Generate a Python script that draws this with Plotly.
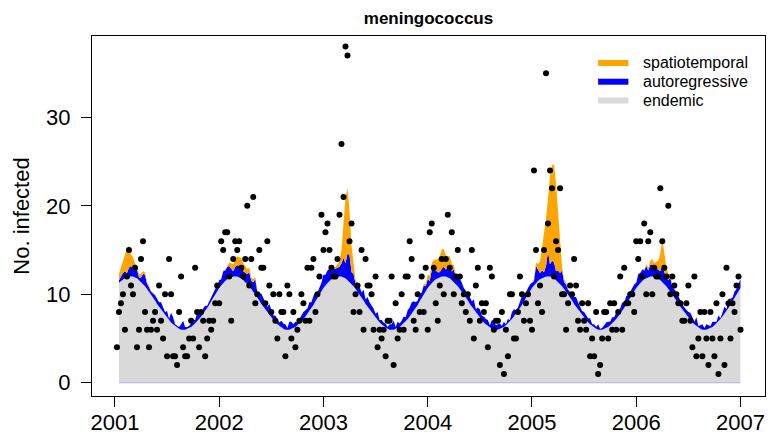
import plotly.graph_objects as go

# weekly meningococcal counts, 52 weeks per year
cases_2001 = [4, 8, 9, 10, 6, 12, 15, 11, 10, 13, 4, 6, 14, 16, 8, 6, 4, 6, 7, 8, 6, 11, 7, 5, 10, 3,
              14, 10, 3, 3, 2, 8, 12, 4, 3, 3, 5, 7, 5, 13, 8, 4, 8, 7, 3, 5, 7, 6, 7, 9, 11, 9]
cases_2002 = [16, 15, 17, 17, 12, 7, 14, 16, 15, 16, 13, 12, 14, 20, 11, 14, 21, 9, 10, 15, 13, 13, 9, 16, 11, 8,
              10, 7, 5, 10, 8, 8, 3, 11, 10, 5, 8, 4, 6, 7, 10, 9, 7, 13, 7, 13, 14, 8, 10, 12, 19, 15]
cases_2003 = [17, 18, 15, 13, 12, 12, 14, 19, 27, 21, 38, 37, 16, 18, 8, 10, 11, 8, 15, 6, 14, 11, 11, 10, 6, 12,
              4, 6, 5, 6, 3, 7, 7, 12, 2, 9, 5, 6, 10, 6, 12, 12, 16, 14, 7, 6, 10, 8, 12, 8, 13, 6]
cases_2004 = [17, 18, 13, 9, 7, 11, 14, 10, 14, 19, 13, 17, 10, 12, 15, 12, 9, 10, 8, 10, 7, 15, 5, 11, 13, 7,
              9, 8, 9, 4, 13, 12, 6, 7, 7, 2, 8, 1, 6, 3, 10, 10, 5, 5, 8, 12, 10, 7, 9, 10, 7, 6]
cases_2005 = [24, 15, 9, 11, 8, 15, 35, 18, 24, 22, 12, 16, 15, 22, 10, 10, 6, 9, 11, 10, 14, 11, 7, 6, 9, 7,
              6, 9, 3, 5, 3, 8, 1, 2, 5, 8, 8, 5, 9, 6, 9, 6, 8, 12, 6, 13, 9, 9, 10, 10, 8, 16]
cases_2006 = [14, 16, 12, 18, 10, 16, 17, 10, 13, 12, 12, 22, 16, 13, 12, 20, 10, 12, 11, 10, 9, 9, 7, 7, 9, 11,
              7, 4, 12, 3, 5, 8, 3, 8, 5, 2, 8, 5, 3, 9, 1, 5, 10, 2, 13, 9, 5, 9, 8, 11, 12, 6]

# endemic part (grey), one season of the curve - it looks the same every year
endemic_season = [11.0, 11.3, 11.5, 11.7, 11.8, 11.9, 12.0, 12.0, 12.0, 11.9,
                  11.8, 11.6, 11.4, 11.2, 10.9, 10.6, 10.3, 10.0, 9.6, 9.3,
                  8.9, 8.6, 8.2, 7.9, 7.6, 7.3, 7.0, 6.8, 6.6, 6.4,
                  6.2, 6.1, 6.0, 6.0, 6.0, 6.1, 6.2, 6.3, 6.5, 6.7,
                  6.9, 7.2, 7.5, 7.8, 8.1, 8.5, 8.8, 9.2, 9.6, 10.0,
                  10.3, 10.7]

# autoregressive part (blue band thickness); the fit starts in week 2 of 2001
ar_2001 = [0.3, 0.6, 0.7, 0.8, 0.5, 1.0, 1.2, 0.9, 0.8, 1.0, 0.3, 0.5, 1.1, 1.3, 0.6, 0.5, 0.3, 0.5, 0.6,
           0.6, 0.5, 0.9, 0.6, 0.4, 0.8, 0.2, 1.1, 0.8, 0.2, 0.2, 0.2, 0.6, 1.0, 0.3, 0.2, 0.2, 0.4, 0.6, 0.4,
           1.0, 0.6, 0.3, 0.6, 0.6, 0.2, 0.4, 0.6, 0.5, 0.6, 0.7, 0.9]
ar_2002 = [0.7, 1.3, 1.2, 1.4, 1.4, 1.0, 0.6, 1.1, 1.3, 1.2, 1.3, 1.0, 1.0, 1.1, 1.6, 0.9, 1.1, 1.7, 0.7, 0.8,
           1.2, 1.0, 1.0, 0.7, 1.3, 0.9, 0.6, 0.8, 0.6, 0.4, 0.8, 0.6, 0.6, 0.2, 0.9, 0.8, 0.4, 0.6, 0.3, 0.5,
           0.6, 0.8, 0.7, 0.6, 1.0, 0.6, 1.0, 1.1, 0.6, 0.8, 1.0, 1.5]
ar_2003 = [1.2, 1.4, 1.4, 1.2, 1.0, 1.0, 1.0, 1.1, 1.5, 2.2, 1.7, 3.0, 3.0, 1.3, 1.4, 0.6, 0.8, 0.9, 0.6, 1.2,
           0.5, 1.1, 0.9, 0.9, 0.8, 0.5, 1.0, 0.3, 0.5, 0.4, 0.5, 0.2, 0.6, 0.6, 1.0, 0.2, 0.7, 0.4, 0.5, 0.8,
           0.5, 1.0, 1.0, 1.3, 1.1, 0.6, 0.5, 0.8, 0.6, 1.0, 0.6, 1.0]
ar_2004 = [0.5, 1.4, 1.4, 1.0, 0.7, 0.6, 0.9, 1.1, 0.8, 1.1, 1.5, 1.0, 1.4, 0.8, 1.0, 1.2, 1.0, 0.7, 0.8, 0.6,
           0.8, 0.6, 1.2, 0.4, 0.9, 1.0, 0.6, 0.7, 0.6, 0.7, 0.3, 1.0, 1.0, 0.5, 0.6, 0.6, 0.2, 0.6, 0.1, 0.5,
           0.2, 0.8, 0.8, 0.4, 0.4, 0.6, 1.0, 0.8, 0.6, 0.7, 0.8, 0.6]
ar_2005 = [0.5, 1.9, 1.2, 0.7, 0.9, 0.6, 1.2, 2.8, 1.4, 1.9, 1.8, 1.0, 1.3, 1.2, 1.8, 0.8, 0.8, 0.5, 0.7, 0.9,
           0.8, 1.1, 0.9, 0.6, 0.5, 0.7, 0.6, 0.5, 0.7, 0.2, 0.4, 0.2, 0.6, 0.1, 0.2, 0.4, 0.6, 0.6, 0.4, 0.7,
           0.5, 0.7, 0.5, 0.6, 1.0, 0.5, 1.0, 0.7, 0.7, 0.8, 0.8, 0.6]
ar_2006 = [1.3, 1.1, 1.3, 1.0, 1.4, 0.8, 1.3, 1.4, 0.8, 1.0, 1.0, 1.0, 1.8, 1.3, 1.0, 1.0, 1.6, 0.8, 1.0, 0.9,
           0.8, 0.7, 0.7, 0.6, 0.6, 0.7, 0.9, 0.6, 0.3, 1.0, 0.2, 0.4, 0.6, 0.2, 0.6, 0.4, 0.2, 0.6, 0.4, 0.2,
           0.7, 0.1, 0.4, 0.8, 0.2, 1.0, 0.7, 0.4, 0.7, 0.6, 0.9, 1.0]

# spatiotemporal part (orange), only visible in the winter weeks
ne_2001 = [0.3, 0.7, 1.0, 1.4, 1.9, 2.8, 2.5, 1.3, 1.3, 0.8, 0.4, 0.4, 0.4, 0.3, 0.3, 0.2, 0.2, 0.1, 0.1, 0.1]
ne_2002 = [0.0, 0.1, 0.1, 0.2, 0.4, 0.6, 0.8, 0.9, 1.0, 1.1, 1.0, 0.9, 0.8, 0.6, 0.5, 0.4, 0.3, 0.2, 0.1]
ne_2003 = [0.0, 0.0, 0.1, 0.1, 0.1, 0.2, 0.4, 0.6, 1.5, 4.0, 7.5, 7.4, 5.0, 3.0, 1.0, 0.4, 0.2, 0.1]
ne_2003_dec = [0.2, 0.3, 0.5]
ne_2004 = [0.6, 0.8, 1.0, 1.2, 1.5, 1.8, 2.2, 2.0, 1.6, 1.3, 1.0, 0.8, 0.5, 0.3, 0.2, 0.1]
ne_2005 = [0.2, 0.4, 0.7, 1.3, 2.5, 4.3, 5.3, 6.0, 10.0, 10.8, 11.1, 9.9, 6.6, 3.1, 0.4, 0.3, 0.2, 0.1]
ne_2006 = [0.0, 0.0, 0.1, 0.1, 0.2, 0.3, 0.5, 0.6, 0.7, 0.8, 1.0, 2.0, 3.0, 2.2, 1.2, 0.7, 0.4, 0.2, 0.1]

years = [2001, 2002, 2003, 2004, 2005, 2006, 2007]
legend_names = ["spatiotemporal", "autoregressive", "endemic"]
legend_colors = ["#FFA500", "#0000FF", "#D9D9D9"]


def pad(head, tail=()):
    return list(head) + [0.0] * (52 - len(head) - len(tail)) + list(tail)


cases = cases_2001 + cases_2002 + cases_2003 + cases_2004 + cases_2005 + cases_2006
weeks = [2001 + (i + 1) / 52 for i in range(len(cases))]

# fitted components exist from week 2 on
fit_weeks = weeks[1:]
endemic = (endemic_season * 6)[1:]
ar = ar_2001 + ar_2002 + ar_2003 + ar_2004 + ar_2005 + ar_2006
ne = (pad(ne_2001) + pad(ne_2002) + pad(ne_2003, ne_2003_dec) + pad(ne_2004)
      + pad(ne_2005) + pad(ne_2006))[1:]

FONT = "Liberation Sans, Arial, sans-serif"
fig = go.Figure()

for vals, col in [(endemic, "#D9D9D9"), (ar, "#0000FF"), (ne, "#FFA500")]:
    fig.add_trace(go.Scatter(x=fit_weeks, y=vals, stackgroup="fit", mode="lines",
                             line=dict(width=0, color=col), fillcolor=col,
                             showlegend=False, hoverinfo="skip"))

fig.add_trace(go.Scatter(x=weeks, y=cases, mode="markers",
                         marker=dict(color="black", size=6), showlegend=False))

# faint baseline under the grey polygon
fig.add_shape(type="line", x0=fit_weeks[0], x1=fit_weeks[-1], y0=0, y1=0,
              line=dict(color="#B3B3E0", width=1), layer="above")

# legend like R's: thick line + label, top right inside the box
for k, (name, col) in enumerate(zip(legend_names, legend_colors)):
    ly = 0.925 - k * 0.052
    fig.add_shape(type="line", xref="paper", yref="paper", x0=0.752, x1=0.797, y0=ly, y1=ly,
                  line=dict(color=col, width=6))
    fig.add_annotation(xref="paper", yref="paper", x=0.816, y=ly, text=name, showarrow=False,
                       xanchor="left", yanchor="middle", font=dict(size=16, family=FONT, color="black"))

fig.update_layout(
    width=769, height=436,
    margin=dict(l=92, r=4, t=36, b=40),
    paper_bgcolor="white", plot_bgcolor="white",
    font=dict(family=FONT, color="black"),
    showlegend=False,
    title=dict(text="<b>meningococcus</b>", x=0.5, xref="paper",
               y=1 - 18 / 436, yref="container", yanchor="middle",
               font=dict(size=17, family=FONT, color="black")),
)
fig.update_xaxes(range=[2000.78, 2007.235], tickvals=years, ticktext=[str(y) for y in years],
                 ticks="outside", ticklen=10, tickcolor="black", showline=True,
                 linecolor="black", linewidth=1, mirror=True, showgrid=False,
                 zeroline=False, tickfont=dict(size=22), ticklabelstandoff=-3,
                 automargin=False)
fig.update_yaxes(range=[-1.5, 39.2], tickvals=[0, 10, 20, 30],
                 ticks="outside", ticklen=10, tickcolor="black", showline=True,
                 linecolor="black", linewidth=1, mirror=True, showgrid=False,
                 zeroline=False, tickfont=dict(size=22), ticklabelstandoff=6,
                 title=dict(text="No. infected", font=dict(size=22), standoff=10),
                 automargin=False)

# drop the browser's default body margin so the figure fills the window exactly
fig.write_html("out.html", config={"displayModeBar": False},
               post_script="document.body.style.margin = '0';")
